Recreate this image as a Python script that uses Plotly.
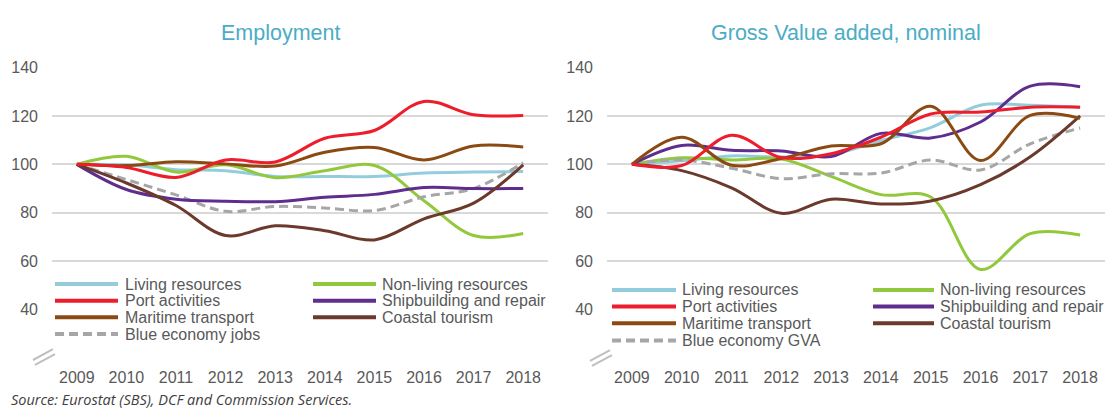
import plotly.graph_objects as go

years = ["2009", "2010", "2011", "2012", "2013", "2014", "2015", "2016", "2017", "2018"]

series_names_emp = ["Living resources", "Non-living resources", "Port activities",
                    "Shipbuilding and repair", "Maritime transport", "Coastal tourism",
                    "Blue economy jobs"]
series_names_gva = ["Living resources", "Non-living resources", "Port activities",
                    "Shipbuilding and repair", "Maritime transport", "Coastal tourism",
                    "Blue economy GVA"]
colors = ["#93CDDD", "#92C83E", "#EE1D2B", "#5E2D8E", "#8B4A12", "#6B3A2C", "#A6A6A6"]
dashes = ["solid", "solid", "solid", "solid", "solid", "solid", "9px,5px"]

# Employment index (2009 = 100)
emp_living = [100, 99.8, 97.8, 97.4, 95, 95, 95, 96.4, 96.8, 97]
emp_nonliving = [100, 103.3, 96.8, 99.8, 94.5, 97.4, 99.5, 85, 70.6, 71.4]
emp_port = [100, 98.7, 94.6, 101.8, 101, 110.8, 114, 126, 120.5, 120.2]
emp_ship = [100, 89.6, 85.6, 84.8, 84.6, 86.4, 87.6, 90.4, 90, 90]
emp_maritime = [100, 99.5, 101.1, 100.2, 99.3, 105, 107, 101.8, 107.6, 107.2]
emp_coastal = [100, 92.3, 83, 70.6, 74.6, 72.6, 68.8, 77.5, 84, 99.8]
emp_blue = [100, 93.7, 87.4, 80.6, 82.6, 82, 80.9, 86.6, 90, 100.7]

# Gross value added, nominal (2009 = 100)
gva_living = [100, 101.5, 103.5, 103, 104, 109.8, 115.2, 124.4, 124.4, 123.6]
gva_nonliving = [100, 102.7, 101.8, 102.2, 95, 87.5, 86.5, 56.6, 71.4, 70.8]
gva_port = [100, 99.5, 112, 102.8, 104.4, 111.2, 120.8, 121.6, 123.6, 123.6]
gva_ship = [100, 107.8, 105.8, 105.5, 103.2, 112.8, 110.9, 117.5, 132.3, 132.1]
gva_maritime = [100, 111.2, 99.6, 102.4, 107.6, 108.5, 124, 101.6, 120.2, 119]
gva_coastal = [100, 97.4, 90.3, 79.8, 85.6, 83.6, 84.9, 91.6, 103.1, 120]
gva_blue = [100, 101.8, 98.4, 94.1, 96.1, 96.4, 101.8, 97.7, 108.5, 115]

emp_values = [emp_living, emp_nonliving, emp_port, emp_ship, emp_maritime, emp_coastal, emp_blue]
gva_values = [gva_living, gva_nonliving, gva_port, gva_ship, gva_maritime, gva_coastal, gva_blue]

y_ticks = [20, 40, 60, 80, 100, 120, 140]
y_ticktext = ["", "40", "60", "80", "100", "120", "140"]

W, H = 1111, 410


def px_x(x):
    return x / W


def px_y(y):
    return 1 - y / H


fig = go.Figure()
# draw order so that lines stack like the reference
order = [0, 1, 6, 3, 5, 4, 2]
for i in order:
    fig.add_trace(go.Scatter(x=years, y=emp_values[i], name=series_names_emp[i], mode="lines",
                             line=dict(color=colors[i], width=3, dash=dashes[i], shape="spline", smoothing=1),
                             xaxis="x", yaxis="y", showlegend=False, hoverinfo="x+y+name"))
for i in order:
    fig.add_trace(go.Scatter(x=years, y=gva_values[i], name=series_names_gva[i], mode="lines",
                             line=dict(color=colors[i], width=3, dash=dashes[i], shape="spline", smoothing=1),
                             xaxis="x2", yaxis="y2", showlegend=False, hoverinfo="x+y+name"))

tick_font = dict(family="Liberation Sans, Arial, sans-serif", size=16, color="#595959")
ydom = [px_y(357), px_y(60.7)]
axis_common_y = dict(range=[20, 140], tickvals=y_ticks, ticktext=y_ticktext, showgrid=True,
                     gridcolor="#D9D9D9", gridwidth=2, zeroline=False, showline=False,
                     ticks="", tickfont=tick_font, ticklabelstandoff=13, fixedrange=True)
axis_common_x = dict(type="category", range=[-0.5, 9.5], showgrid=False, zeroline=False,
                     showline=False, ticks="", tickfont=tick_font, ticklabelstandoff=8,
                     fixedrange=True)

fig.update_layout(
    width=W, height=H,
    margin=dict(l=0, r=0, t=0, b=0),
    paper_bgcolor="white", plot_bgcolor="white",
    xaxis=dict(domain=[px_x(52), px_x(548)], anchor="y", **axis_common_x),
    yaxis=dict(domain=ydom, anchor="x", **axis_common_y),
    xaxis2=dict(domain=[px_x(607), px_x(1105)], anchor="y2", **axis_common_x),
    yaxis2=dict(domain=ydom, anchor="x2", **axis_common_y),
    showlegend=False,
)

shapes = []
annotations = []

# white panels behind legends (hide the 40 gridline, as in the reference)
shapes.append(dict(type="rect", xref="paper", yref="paper", x0=px_x(50), x1=px_x(550),
                   y0=px_y(346), y1=px_y(270), fillcolor="white", line=dict(width=0), layer="above"))
shapes.append(dict(type="rect", xref="paper", yref="paper", x0=px_x(605), x1=px_x(1107),
                   y0=px_y(352), y1=px_y(276), fillcolor="white", line=dict(width=0), layer="above"))

legend_font = dict(family="Liberation Sans, Arial, sans-serif", size=16, color="#595959")


def add_legend(names, col_x, rows_y):
    # col_x: list of (line_x0, line_x1, text_x) per column
    for k, name in enumerate(names):
        r, c = divmod(k, 2)
        x0, x1, tx = col_x[c]
        y = rows_y[r]
        shapes.append(dict(type="line", xref="paper", yref="paper", x0=px_x(x0), x1=px_x(x1),
                           y0=px_y(y), y1=px_y(y), layer="above",
                           line=dict(color=colors[k], width=4, dash=dashes[k])))
        annotations.append(dict(text=name, xref="paper", yref="paper", x=px_x(tx), y=px_y(y),
                                xanchor="left", yanchor="middle", showarrow=False, font=legend_font))


add_legend(series_names_emp, [(55, 118, 123), (313, 376, 380)], [281.5, 298.5, 315.5, 332.5])
add_legend(series_names_gva, [(612, 676, 680), (873, 934, 938)], [287.5, 304.5, 321.5, 339])

# axis break marks
for (bx, by) in [(33, 359), (590, 360)]:
    for off in (0, 5):
        shapes.append(dict(type="line", xref="paper", yref="paper",
                           x0=px_x(bx + off * 0.4), y0=px_y(by + off),
                           x1=px_x(bx + 20 + off * 0.4), y1=px_y(by - 11 + off),
                           line=dict(color="#BFBFBF", width=2), layer="above"))

title_font = dict(family="Liberation Sans, Arial, sans-serif", size=21.5, color="#4BACC6")
annotations.append(dict(text="Employment", xref="paper", yref="paper", x=px_x(281), y=px_y(26),
                        xanchor="center", yanchor="middle", showarrow=False, font=title_font))
annotations.append(dict(text="Gross Value added, nominal", xref="paper", yref="paper", x=px_x(846),
                        y=px_y(26), xanchor="center", yanchor="middle", showarrow=False, font=title_font))
annotations.append(dict(text="<i>Source: Eurostat (SBS), DCF and Commission Services.</i>", xref="paper",
                        yref="paper", x=px_x(9), y=px_y(399), xanchor="left", yanchor="middle",
                        showarrow=False, font=dict(family="Open Sans, sans-serif", size=14.5, color="#404040")))

fig.update_layout(shapes=shapes, annotations=annotations)
fig.write_html(
    "out.html",
    config={"displayModeBar": False},
    post_script=(
        "document.documentElement.style.margin='0';document.body.style.margin='0';"
        "document.body.style.overflow='hidden';"
        "var d=document.getElementById('{plot_id}');"
        "d.style.position='fixed';d.style.top='0px';d.style.left='0px';"
    ),
)
